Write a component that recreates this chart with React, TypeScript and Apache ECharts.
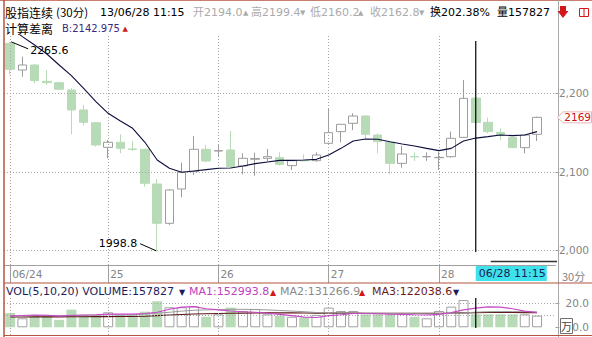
import React, { useEffect, useRef } from "react";
import * as echarts from "echarts";

// ---------- data ----------
const categories = [
  "06/24 10:15", "06/24 10:45", "06/24 11:15", "06/24 13:15", "06/24 13:45", "06/24 14:15", "06/24 14:45", "06/24 15:15",
  "06/25 09:45", "06/25 10:15", "06/25 10:45", "06/25 11:15", "06/25 13:15", "06/25 13:45", "06/25 14:15", "06/25 14:45", "06/25 15:15",
  "06/26 09:45", "06/26 10:15", "06/26 10:45", "06/26 11:15", "06/26 13:15", "06/26 13:45", "06/26 14:15", "06/26 14:45", "06/26 15:15",
  "06/27 09:45", "06/27 10:15", "06/27 10:45", "06/27 11:15", "06/27 13:15", "06/27 13:45", "06/27 14:15", "06/27 14:45", "06/27 15:15",
  "06/28 09:45", "06/28 10:15", "06/28 10:45", "06/28 11:15", "06/28 13:15", "06/28 13:45", "06/28 14:15", "06/28 14:45", "06/28 15:15",
];
const dayStartIndex = [0, 8, 17, 26, 35];
const dayLabels = ["06/24", "25", "26", "27", "28"];

const opens = [
  2263.7, 2229.7, 2236.1, 2215.3, 2213.6, 2204.2, 2178.8, 2162.6,
  2131.2, 2137.6, 2129.2, 2128.7, 2084.5, 2034.4, 2078.1, 2100.2, 2128.7,
  2126.5, 2127.8, 2107.4, 2116.0, 2117.2, 2118.0, 2107.9, 2114.4, 2114.2,
  2136.3, 2151.2, 2161.8, 2171.1, 2146.9, 2137.6, 2110.8, 2119.5, 2119.2,
  2118.0, 2119.3, 2143.9, 2194.0, 2163.1, 2150.0, 2143.9, 2130.8, 2147.8,
];
const closes = [
  2230.6, 2236.1, 2216.1, 2213.6, 2205.1, 2178.8, 2163.1, 2134.2,
  2137.6, 2129.9, 2128.5, 2085.4, 2034.4, 2076.9, 2099.4, 2128.7, 2113.8,
  2127.0, 2106.6, 2117.2, 2117.0, 2119.3, 2109.6, 2114.2, 2114.0, 2121.4,
  2149.9, 2160.5, 2171.1, 2147.8, 2138.4, 2110.8, 2122.7, 2119.0, 2119.4,
  2118.4, 2142.7, 2193.6, 2162.8, 2151.2, 2147.0, 2130.8, 2146.9, 2169.4,
];
const lows = [
  2224.2, 2221.2, 2212.7, 2210.6, 2204.2, 2147.8, 2158.8, 2132.1,
  2117.2, 2123.6, 2126.5, 2081.1, 1998.8, 2032.3, 2067.5, 2096.0, 2112.1,
  2118.5, 2105.3, 2096.8, 2095.1, 2113.8, 2107.9, 2102.3, 2113.8, 2112.9,
  2134.2, 2137.6, 2153.3, 2142.7, 2123.6, 2096.8, 2105.3, 2113.8, 2114.0,
  2102.3, 2118.0, 2143.0, 2160.2, 2149.0, 2140.6, 2130.0, 2123.6, 2139.3,
];
const highs = [
  2265.6, 2246.7, 2237.0, 2229.7, 2214.9, 2206.4, 2185.1, 2163.5,
  2140.5, 2147.8, 2139.3, 2129.5, 2090.9, 2077.7, 2111.7, 2145.6, 2134.2,
  2134.2, 2152.0, 2123.6, 2124.4, 2129.1, 2124.8, 2114.6, 2122.3, 2124.8,
  2180.0, 2161.0, 2174.5, 2172.0, 2149.0, 2138.5, 2132.9, 2124.8, 2124.8,
  2125.5, 2151.2, 2217.0, 2199.4, 2169.0, 2155.4, 2144.5, 2148.0, 2170.3,
];
// 计算差离 line
const diffLine = [
  2285.0, 2272.2, 2261.6, 2250.1, 2236.1, 2222.5, 2206.4, 2189.4,
  2174.5, 2164.8, 2155.4, 2137.6, 2115.1, 2104.5, 2099.4, 2101.1, 2102.8,
  2104.5, 2104.9, 2107.4, 2110.4, 2112.5, 2114.6, 2114.6, 2115.1, 2115.9,
  2121.4, 2129.9, 2139.3, 2141.8, 2141.4, 2138.4, 2135.5, 2132.9, 2129.9,
  2127.0, 2129.9, 2139.3, 2142.975, 2144.8, 2146.9, 2146.1, 2146.9, 2151.2,
];
// volume in 万
const volumes = [
  12, 7.5, 10.3, 10.3, 6.2, 14.7, 10.3, 10.3,
  12.5, 10.3, 10.3, 13, 21.7, 16.7, 16.7, 17.5, 8.8,
  10.8, 16.4, 13.6, 15.2, 10.8, 9.7, 8.8, 8, 10.3,
  16.4, 13.6, 13.6, 10.8, 10.8, 10.8, 11.7, 8.8, 7.5,
  13.6, 17.2, 22.7, 10.8, 10.8, 10.8, 10.8, 10.8, 9.7,
];
const volMa1 = [
  9.5, 9.8, 10.2, 10, 9.3, 9.8, 10.3, 10.4,
  11, 11, 11, 11.5, 12.5, 15, 16.8, 17.2, 15.5,
  14.5, 13.6, 13, 12.5, 11.7, 10.8, 9.7, 8.5, 8.2,
  9.7, 10.5, 11.5, 11.5, 11.3, 11, 10.8, 10.5, 10.3,
  10.8, 12.3, 14.5, 16, 17, 16.8, 15.5, 13.5, 12.3,
];
const volMa2 = [
  9.5, 9.6, 9.8, 9.9, 9.8, 10, 10, 10.2,
  10.5, 10.3, 10.5, 11, 11.8, 12.5, 13.5, 14.2, 14.5,
  14.8, 15, 15, 14.8, 14.5, 14, 13.5, 13, 12.3,
  12, 12, 11.8, 11.7, 11.6, 11.5, 11.5, 11.4, 11.3,
  11.3, 11.5, 12, 12.6, 13, 13.1, 13.1, 13, 12.8,
];
const volMa3 = [
  8.6, 8.6, 8.7, 8.7, 8.7, 8.8, 8.8, 8.9,
  8.9, 9, 9, 9.2, 9.7, 10.2, 10.7, 11.1, 11.3,
  11.5, 11.7, 11.8, 11.9, 12, 12, 12, 11.9, 11.8,
  11.8, 11.8, 11.8, 11.7, 11.7, 11.7, 11.7, 11.6, 11.6,
  11.7, 11.8, 12, 12.2, 12.3, 12.3, 12.3, 12.2, 12.2,
];
const priceTicks = [2000, 2100, 2200];
const volTicks = [0, 20];
const volGridValues = [10, 20];
const crossIndex = 38;

const LATIN = '"DejaVu Sans", "Noto Sans CJK SC", sans-serif';
const CJK = '"Noto Sans CJK SC", "DejaVu Sans", sans-serif';

export default function App() {
  const ref = useRef<HTMLDivElement>(null);

  useEffect(() => {
    if (!ref.current) return;
    const chart = echarts.init(ref.current, undefined, { renderer: "svg" });
    const xCats = [...categories, ""];
    const green = "#b7dbb7";
    const hollowBorder = "#9c9c9c";
    const dotted = { color: "#a8a8a8", width: 1, type: [1, 2] as number[] };

    const dayMarks = dayStartIndex.map((i) => ({ xAxis: categories[i] }));

    chart.setOption({
      animation: false,
      backgroundColor: "#ffffff",
      textStyle: { fontFamily: LATIN },
      grid: [
        { left: 4, top: 35, width: 553.5, height: 230 },
        { left: 4, top: 296, width: 553.5, height: 39 },
      ],
      xAxis: [
        {
          type: "category",
          gridIndex: 0,
          data: xCats,
          boundaryGap: true,
          axisLine: { show: true, lineStyle: { color: "#a0a0a0", width: 1 } },
          axisTick: {
            show: true,
            alignWithLabel: true,
            length: 18,
            interval: (i: number) => dayStartIndex.includes(i),
            lineStyle: { color: "#a0a0a0" },
          },
          axisLabel: {
            show: true,
            interval: (i: number) => dayStartIndex.includes(i),
            formatter: (_v: string, i: number) => {
              const k = dayStartIndex.indexOf(i);
              return k >= 0 ? dayLabels[k] : "";
            },
            align: "left",
            padding: [0, 0, 0, 2],
            margin: 4,
            color: "#858585",
            fontSize: 10.5,
            fontFamily: LATIN,
          },
          splitLine: { show: false },
        },
        {
          type: "category",
          gridIndex: 1,
          data: xCats,
          boundaryGap: true,
          show: false,
        },
      ],
      yAxis: [
        {
          type: "value",
          gridIndex: 0,
          position: "right",
          min: 1981.3,
          max: 2274.3,
          axisLine: { show: false },
          axisTick: { show: true, customValues: priceTicks, length: 4, lineStyle: { color: "#a0a0a0" } },
          axisLabel: {
            customValues: priceTicks,
            align: "right",
            margin: 33.6,
            color: "#858585",
            fontSize: 10.5,
            fontFamily: LATIN,
          },
          splitLine: { show: false },
        },
        {
          type: "value",
          gridIndex: 1,
          position: "right",
          min: -6.42,
          max: 26.08,
          axisLine: { show: false },
          axisTick: { show: true, customValues: volTicks, length: 4, lineStyle: { color: "#a0a0a0" } },
          axisLabel: {
            customValues: volTicks,
            formatter: (v: number) => v.toFixed(1),
            align: "right",
            margin: 33.6,
            color: "#858585",
            fontSize: 10.5,
            fontFamily: LATIN,
          },
          splitLine: { show: false },
        },
      ],
      series: [
        {
          type: "candlestick",
          xAxisIndex: 0,
          yAxisIndex: 0,
          barWidth: 9,
          data: opens.map((o, i) => [o, closes[i], lows[i], highs[i]]),
          itemStyle: {
            color: "#ffffff",
            color0: green,
            borderColor: hollowBorder,
            borderColor0: green,
            borderWidth: 1,
          },
          markLine: {
            silent: true,
            symbol: ["none", "none"],
            label: { show: false },
            lineStyle: dotted,
            data: [...priceTicks.map((v) => ({ yAxis: v })), ...dayMarks],
          },
        },
        {
          type: "line",
          xAxisIndex: 0,
          yAxisIndex: 0,
          data: diffLine,
          showSymbol: false,
          symbol: "none",
          lineStyle: { color: "#0d0d3d", width: 1.1 },
          z: 5,
        },
        {
          type: "bar",
          xAxisIndex: 1,
          yAxisIndex: 1,
          barWidth: 10,
          data: volumes.map((v, i) => ({
            value: v,
            itemStyle:
              closes[i] >= opens[i]
                ? { color: "#ffffff", borderColor: "#a0a0a0", borderWidth: 1 }
                : { color: green, borderWidth: 0 },
          })),
          markLine: {
            silent: true,
            symbol: ["none", "none"],
            label: { show: false },
            lineStyle: dotted,
            data: [...volGridValues.map((v) => ({ yAxis: v })), ...dayMarks],
          },
        },
        {
          type: "line",
          xAxisIndex: 1,
          yAxisIndex: 1,
          data: volMa3,
          symbol: "none",
          lineStyle: { color: "#5a1414", width: 1.1 },
          z: 4,
        },
        {
          type: "line",
          xAxisIndex: 1,
          yAxisIndex: 1,
          data: volMa2,
          symbol: "none",
          lineStyle: { color: "#9a9a9a", width: 1 },
          z: 4,
        },
        {
          type: "line",
          xAxisIndex: 1,
          yAxisIndex: 1,
          data: volMa1,
          symbol: "none",
          lineStyle: { color: "#c848c8", width: 1.1 },
          z: 5,
        },
      ],
    });

    const px = (g: number, i: number, v: number) =>
      chart.convertToPixel({ gridIndex: g } as any, [i, v]) as number[];

    const txt = (x: number, y: number, text: string, fill: string, size = 11, family = LATIN, align = "left") => ({
      type: "text",
      x,
      y,
      silent: true,
      z: 100,
      style: {
        text,
        fill,
        fontSize: size,
        fontFamily: family,
        align,
        verticalAlign: "middle",
        lineHeight: Math.round(size),
      },
    });
    const ln = (x1: number, y1: number, x2: number, y2: number, stroke: string, lineWidth = 1) => ({
      type: "line",
      silent: true,
      z: 100,
      shape: { x1, y1, x2, y2 },
      style: { stroke, lineWidth },
    });

    const hi = px(0, 0, highs[0]);
    const lo = px(0, 12, lows[12]);
    const cross = px(0, crossIndex, 2100);
    const last = px(0, closes.length - 1, closes[closes.length - 1]);
    const ly = last[1];
    const gray = "#ababab";
    const red = "#d01818";
    const navy = "#1c1c5c";
    const border = "#b4553f";

    const graphic: any[] = [
      // frame lines
      ln(0, 0.5, 592, 0.5, "#c8806e", 1),
      ln(4, 0, 4, 337, border, 1.5),
      ln(558.5, 0, 558.5, 337, "#a8a8a8", 1),
      ln(4, 283, 592, 283, border, 1.2),
      ln(4, 335.5, 592, 335.5, border, 1.2),
      // header row 1
      txt(5, 12, "股指连续", "#000", 12, CJK),
      txt(56, 12, "(30分)", "#000", 11.5, CJK),
      txt(100, 12, "13/06/28 11:15", "#000", 11),
      txt(193, 12, "开2194.0", gray, 11),
      txt(243, 12.5, "▲", gray, 7),
      txt(251, 12, "高2199.4", gray, 11),
      txt(300, 12.5, "▼", gray, 7),
      txt(310, 12, "低2160.2", gray, 11),
      txt(358, 12.5, "▲", gray, 7),
      txt(370, 12, "收2162.8", gray, 11),
      txt(419, 12.5, "▼", gray, 7),
      txt(430, 12, "换202.38%", "#000", 11),
      txt(497, 12, "量157827", "#000", 11),
      {
        type: "polygon",
        silent: true,
        z: 100,
        shape: { points: [[560, 6], [566, 6], [566, 11], [568.5, 11], [563, 18], [557.5, 11], [560, 11]] },
        style: { fill: red },
      },
      {
        type: "rect",
        silent: true,
        z: 100,
        shape: { x: 579.5, y: 8.5, width: 9, height: 8 },
        style: { fill: "none", stroke: red, lineWidth: 1 },
      },
      ln(584, 8.5, 584, 16.5, red, 1),
      // header row 2
      txt(5, 28, "计算差离", "#000", 12, CJK),
      txt(62, 28, "B:2142.975", "#3a2a7a", 10),
      txt(122.5, 28.5, "▲", red, 7),
      // high / low annotations
      ln(hi[0] + 1, hi[1], hi[0] + 18, hi[1] + 7, "#000", 1),
      txt(hi[0] + 20, hi[1] + 8.5, String(highs[0]), "#000", 11),
      ln(lo[0] - 1, lo[1] - 0.5, lo[0] - 17, lo[1] - 7.5, "#000", 1),
      txt(lo[0] - 20, lo[1] - 8, String(lows[12]), "#000", 11, LATIN, "right"),
      // crosshair
      ln(cross[0], 41, cross[0], 252, "#000", 1.2),
      ln(cross[0], 298, cross[0], 328, "#000", 1.2),
      ln(cross[0] + 15, 261.5, 557, 261.5, "#333", 1.5),
      {
        type: "rect",
        silent: true,
        z: 100,
        shape: { x: cross[0], y: 266, width: 71, height: 15 },
        style: { fill: "#3fe2ea" },
      },
      txt(cross[0] + 3, 273.5, categories[crossIndex], navy, 11),
      txt(562, 276, "30分", "#858585", 11, CJK),
      // last price tag
      {
        type: "polygon",
        silent: true,
        z: 100,
        shape: { points: [[557.5, ly], [563, ly - 5.5], [591.5, ly - 5.5], [591.5, ly + 5.5], [563, ly + 5.5]] },
        style: { fill: "#ffffff", stroke: "#ebb5b5", lineWidth: 1 },
      },
      txt(591, ly, String(Math.round(closes[closes.length - 1])), "#d01010", 10.5, LATIN, "right"),
      // volume header
      txt(6, 291.5, "VOL(5,10,20) VOLUME:157827", navy, 11),
      txt(179, 292, "▼", navy, 8),
      txt(189, 291.5, "MA1:152993.8", "#c040c0", 11),
      txt(270, 292, "▲", red, 8),
      txt(280, 291.5, "MA2:131266.9", "#8a8a8a", 11),
      txt(359, 292, "▲", red, 8),
      txt(372, 291.5, "MA3:122038.6", "#6a1a1a", 11),
      txt(453, 292, "▼", navy, 8),
      // 万 box
      {
        type: "rect",
        silent: true,
        z: 100,
        shape: { x: 560.5, y: 318.5, width: 12, height: 15 },
        style: { fill: "#ffffff", stroke: "#707070", lineWidth: 1 },
      },
      txt(566.5, 326, "万", "#444", 11, CJK, "center"),
    ];

    chart.setOption({ graphic });

    return () => chart.dispose();
  }, []);

  return (
    <div
      ref={ref}
      style={{ position: "fixed", left: 0, top: 0, width: 592, height: 337, background: "#fff" }}
    />
  );
}
